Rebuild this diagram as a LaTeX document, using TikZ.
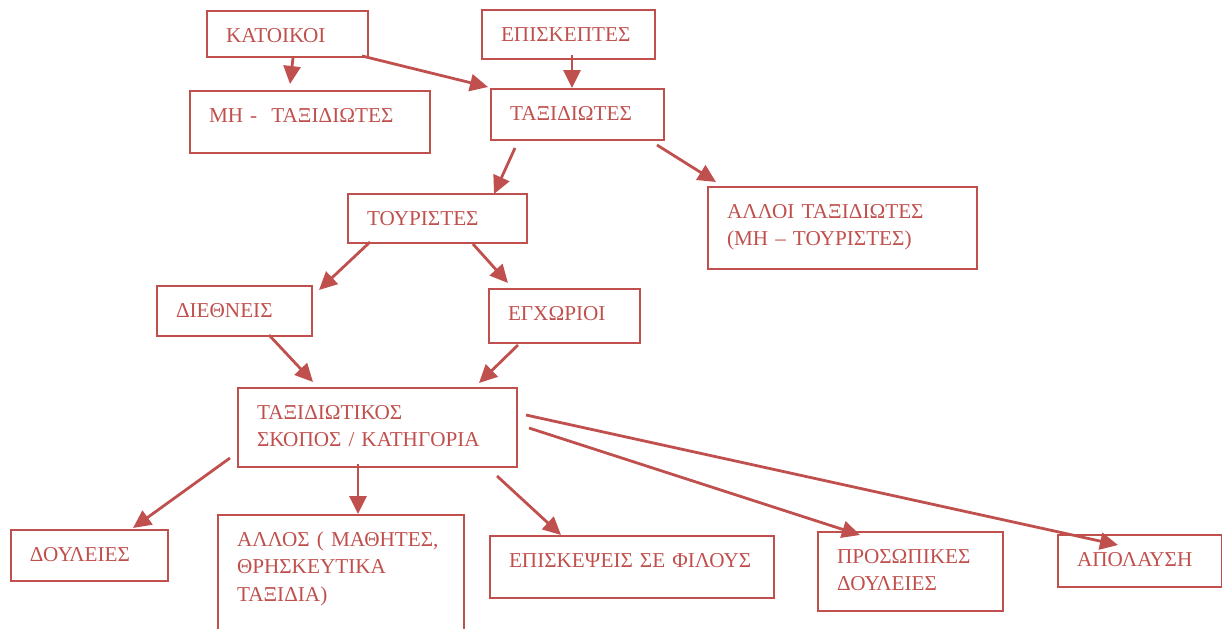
\documentclass[tikz,border=0pt]{standalone}
\usepackage{fontspec}
\setmainfont{Liberation Serif}
\usetikzlibrary{arrows.meta, calc}
\definecolor{boxred}{RGB}{192,80,77}

\begin{document}
\begin{tikzpicture}[x=0.5pt, y=-0.5pt,
        box/.style={rectangle, anchor=north west, draw=boxred, line width=1pt, text=boxred, align=left, inner xsep=9.5pt, inner ysep=0pt, text height=15.5pt, font=\fontsize{10.6}{13.8}\selectfont},
        % Style cho các mũi tên
        link/.style={draw=boxred, line width=1.4pt, -{Triangle[length=9pt, width=8.5pt]}}
    ]
        \useasboundingbox (0,0) rectangle (1222,628);

        % Πρώτο επίπεδο
        \node (kat) [box, text width=61.5pt, text depth=7.5pt] at (206,10) {ΚΑΤΟΙΚΟΙ};
        \node (epi) [box, text width=67.5pt, text depth=9pt] at (481,9) {ΕΠΙΣΚΕΠΤΕΣ};
        \node (mh) [box, text width=101pt, text depth=15.5pt] at (189,90) {ΜΗ -\ \ ΤΑΞΙΔΙΩΤΕΣ};
        \node (tax) [box, text width=67.5pt, text depth=10pt] at (490,88) {ΤΑΞΙΔΙΩΤΕΣ};

        % Τουρίστες και άλλοι
        \node (tour) [box, text width=70.5pt, text depth=9pt] at (347,193) {ΤΟΥΡΙΣΤΕΣ};
        \node (allot) [box, text width=115.5pt, text depth=25.5pt] at (707,186) {ΑΛΛΟΙ ΤΑΞΙΔΙΩΤΕΣ\\(ΜΗ – ΤΟΥΡΙΣΤΕΣ)};
        \node (dieth) [box, text width=58.5pt, text depth=9.5pt] at (156,285) {ΔΙΕΘΝΕΙΣ};
        \node (egx) [box, text width=56.5pt, text depth=11.5pt] at (488,288) {ΕΓΧΩΡΙΟΙ};
        \node (skopos) [box, text width=120.5pt, text depth=24pt] at (237,387) {ΤΑΞΙΔΙΩΤΙΚΟΣ\\ΣΚΟΠΟΣ / ΚΑΤΗΓΟΡΙΑ};

        % Κατηγορίες
        \node (doul) [box, text width=59.5pt, text depth=10pt] at (10,529) {ΔΟΥΛΕΙΕΣ};
        \node (allos) [box, text width=104pt, text depth=59.5pt] at (217,514) {ΑΛΛΟΣ ( ΜΑΘΗΤΕΣ,\\ΘΡΗΣΚΕΥΤΙΚΑ\\ΤΑΞΙΔΙΑ)};
        \node (episk) [box, text width=123pt, text depth=15.5pt] at (489,535) {ΕΠΙΣΚΕΨΕΙΣ ΣΕ ΦΙΛΟΥΣ};
        \node (pros) [box, text width=73.5pt, text depth=24pt] at (817,531) {ΠΡΟΣΩΠΙΚΕΣ\\ΔΟΥΛΕΙΕΣ};
        \node (apol) [box, text width=63pt, text depth=10.5pt] at (1057,534) {ΑΠΟΛΑΥΣΗ};

        % Βέλη
        \draw [link] ($(kat.south west)+(87,0)$) -- ($(mh.north west)+(101,-6)$);
        \draw [link] ($(kat.south east)+(-7,-2)$) -- ($(tax.north west)+(-2,-1)$);
        \draw [link] ($(epi.south west)+(91,-5)$) -- ($(tax.north west)+(82,0)$);
        \draw [link] ($(tax.south west)+(25,7)$) -- ($(tour.north west)+(147,1)$);
        \draw [link] ($(tax.south east)+(-8,4)$) -- ($(allot.north west)+(9,-4)$);
        \draw [link] ($(tour.south west)+(23,-2)$) -- ($(dieth.north east)+(6,5)$);
        \draw [link] ($(tour.south west)+(126,0)$) -- ($(egx.north west)+(20,-5)$);
        \draw [link] ($(dieth.south west)+(113,-2)$) -- ($(skopos.north west)+(76,-5)$);
        \draw [link] ($(egx.south west)+(30,1)$) -- ($(skopos.north west)+(242,-4)$);
        \draw [link] ($(skopos.south west)+(-7,-10)$) -- ($(doul.north west)+(123,-1)$);
        \draw [link] ($(skopos.south west)+(121,-4)$) -- ($(allos.north west)+(141,0)$);
        \draw [link] ($(skopos.south east)+(-21,8)$) -- ($(episk.north west)+(72,0)$);
        \draw [link] ($(skopos.south east)+(11,-40)$) -- ($(pros.north west)+(43,4)$);
        \draw [link] ($(skopos.south east)+(8,-53)$) -- ($(apol.north west)+(61,11)$);

    \end{tikzpicture}
\end{document}
